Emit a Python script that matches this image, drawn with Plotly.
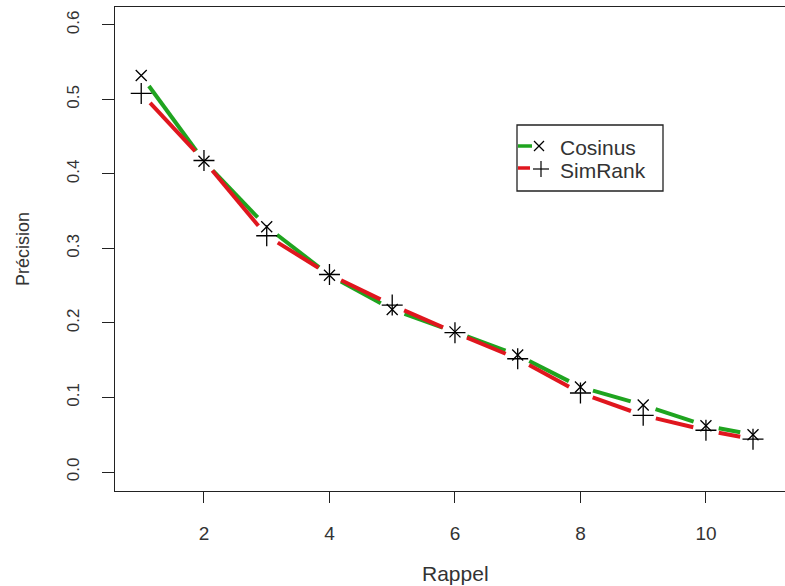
import plotly.graph_objects as go

# Rappel / précision values for the two similarity measures
rappel = [1, 2, 3, 4, 5, 6, 7, 8, 9, 10, 10.75]
cosinus = [0.532, 0.417, 0.329, 0.264, 0.218, 0.188, 0.157, 0.114, 0.090, 0.062, 0.050]
simrank = [0.508, 0.418, 0.317, 0.265, 0.224, 0.187, 0.152, 0.106, 0.076, 0.056, 0.044]

x_ticks = [2, 4, 6, 8, 10]
y_ticks = [0.0, 0.1, 0.2, 0.3, 0.4, 0.5, 0.6]

W, H = 785, 586
ML, MR, MT, MB = 115, 0, 7, 95
XR = [0.582, 11.26]
YR = [-0.0255, 0.624]
PW, PH = W - ML - MR, H - MT - MB

GREEN = "#1fa41f"
RED = "#e0161e"
FONT = "Liberation Sans, Arial, sans-serif"


def to_px(x, y):
    return ((x - XR[0]) / (XR[1] - XR[0]) * PW,
            (y - YR[0]) / (YR[1] - YR[0]) * PH)


def to_data(px, py):
    return (XR[0] + px / PW * (XR[1] - XR[0]),
            YR[0] + py / PH * (YR[1] - YR[0]))


def gapped_segments(xs, ys, gap=13):
    """Line pieces between consecutive points, leaving a gap around each point."""
    sx, sy = [], []
    for i in range(len(xs) - 1):
        x0, y0 = to_px(xs[i], ys[i])
        x1, y1 = to_px(xs[i + 1], ys[i + 1])
        d = ((x1 - x0) ** 2 + (y1 - y0) ** 2) ** 0.5
        ux, uy = (x1 - x0) / d, (y1 - y0) / d
        a = to_data(x0 + ux * gap, y0 + uy * gap)
        b = to_data(x1 - ux * gap, y1 - uy * gap)
        sx += [a[0], b[0], None]
        sy += [a[1], b[1], None]
    return sx, sy


fig = go.Figure()

for ys, col, name in [(cosinus, GREEN, "Cosinus"), (simrank, RED, "SimRank")]:
    sx, sy = gapped_segments(rappel, ys)
    fig.add_trace(go.Scatter(x=sx, y=sy, mode="lines", name=name,
                             line=dict(color=col, width=4), showlegend=False))

fig.add_trace(go.Scatter(x=rappel, y=cosinus, mode="markers", showlegend=False,
                         marker=dict(symbol="x-thin-open", size=11, color="black",
                                     line=dict(color="black", width=1.3))))
fig.add_trace(go.Scatter(x=rappel, y=simrank, mode="markers", showlegend=False,
                         marker=dict(symbol="cross-thin-open", size=15, color="black",
                                     line=dict(color="black", width=1.3))))


# legend box drawn by hand (pixel positions converted to paper coordinates)
def px_x(p):
    return (p - ML) / PW


def px_y(p):
    return (H - MB - p) / PH


shapes = [
    dict(type="rect", xref="paper", yref="paper",
         x0=px_x(517), x1=px_x(663), y0=px_y(191), y1=px_y(125),
         line=dict(color="#222", width=1.3), fillcolor="white", layer="below"),
    dict(type="line", xref="paper", yref="paper",
         x0=px_x(518), x1=px_x(532), y0=px_y(146), y1=px_y(146),
         line=dict(color=GREEN, width=3.5)),
    dict(type="line", xref="paper", yref="paper",
         x0=px_x(518), x1=px_x(530), y0=px_y(168), y1=px_y(168),
         line=dict(color=RED, width=3.5)),
    # x symbol
    dict(type="line", xref="paper", yref="paper",
         x0=px_x(534), x1=px_x(544), y0=px_y(141), y1=px_y(151),
         line=dict(color="black", width=1.2)),
    dict(type="line", xref="paper", yref="paper",
         x0=px_x(534), x1=px_x(544), y0=px_y(151), y1=px_y(141),
         line=dict(color="black", width=1.2)),
    # + symbol
    dict(type="line", xref="paper", yref="paper",
         x0=px_x(533), x1=px_x(549), y0=px_y(169), y1=px_y(169),
         line=dict(color="black", width=1.2)),
    dict(type="line", xref="paper", yref="paper",
         x0=px_x(541), x1=px_x(541), y0=px_y(161), y1=px_y(177),
         line=dict(color="black", width=1.2)),
]

annotations = [
    dict(text="Cosinus", xref="paper", yref="paper", x=px_x(558), y=px_y(147),
         xanchor="left", yanchor="middle", showarrow=False,
         font=dict(size=21, color="#333", family=FONT)),
    dict(text="SimRank", xref="paper", yref="paper", x=px_x(558), y=px_y(170),
         xanchor="left", yanchor="middle", showarrow=False,
         font=dict(size=21, color="#333", family=FONT)),
    dict(text="Rappel", xref="paper", yref="paper", x=px_x(455), y=px_y(573),
         xanchor="center", yanchor="middle", showarrow=False,
         font=dict(size=21, color="#333", family=FONT)),
    dict(text="Précision", xref="paper", yref="paper", x=px_x(23), y=px_y(249),
         xanchor="center", yanchor="middle", showarrow=False, textangle=-90,
         font=dict(size=18, color="#333", family=FONT)),
]

fig.update_layout(
    width=W, height=H,
    margin=dict(l=ML, r=MR, t=MT, b=MB, pad=0),
    paper_bgcolor="white", plot_bgcolor="white",
    showlegend=False,
    shapes=shapes, annotations=annotations,
    font=dict(family=FONT, size=19, color="#333"),
)

fig.update_xaxes(range=XR, tickvals=x_ticks, ticktext=[str(v) for v in x_ticks],
                 showgrid=False, zeroline=False,
                 showline=True, linecolor="#222", linewidth=1.3, mirror=True,
                 ticks="outside", ticklen=11, tickwidth=1.3, tickcolor="#222",
                 ticklabelstandoff=14, tickfont=dict(size=19, color="#333"))
fig.update_yaxes(range=YR, tickvals=y_ticks, ticktext=[f"{v:.1f}" for v in y_ticks],
                 showgrid=False, zeroline=False,
                 showline=True, linecolor="#222", linewidth=1.3,
                 ticks="outside", ticklen=12, tickwidth=1.3, tickcolor="#222",
                 tickangle=-90, ticklabelstandoff=16,
                 tickfont=dict(size=17, color="#333"))

fig.write_html("out.html")
